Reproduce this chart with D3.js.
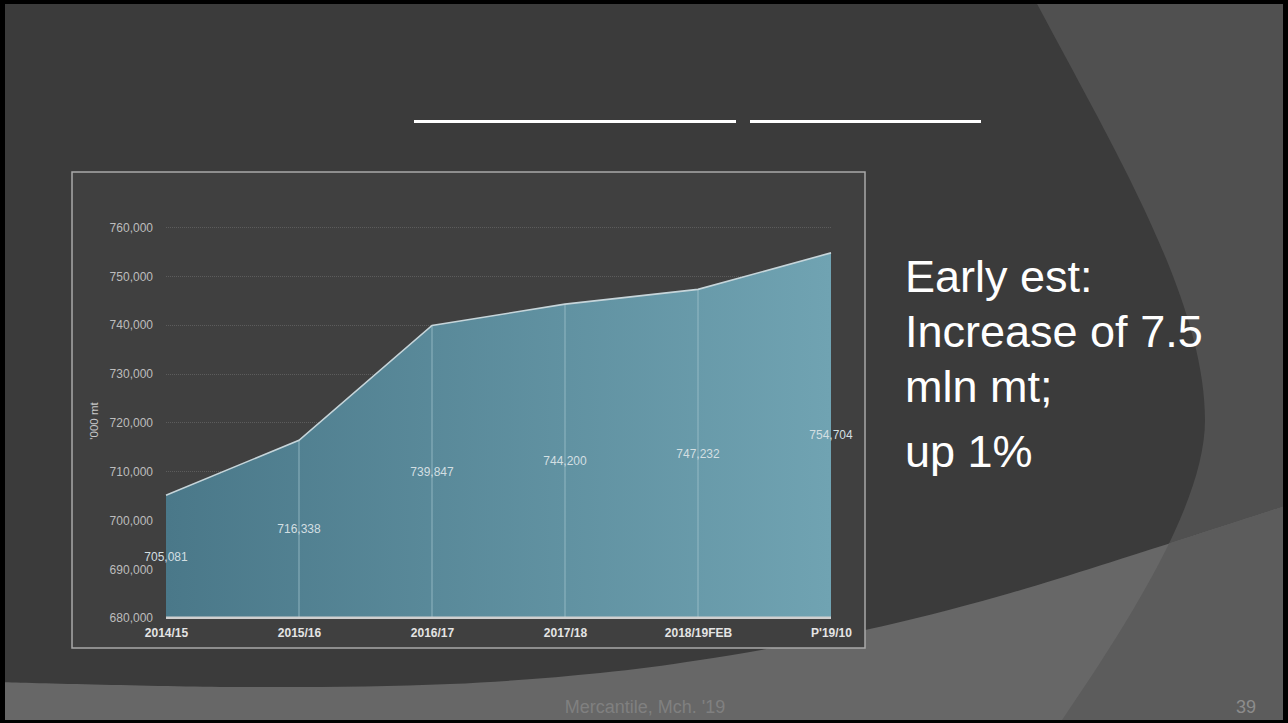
<!DOCTYPE html>
<html>
<head>
<meta charset="utf-8">
<script src="https://cdn.jsdelivr.net/npm/d3@7"></script>
<style>
  html, body { margin: 0; padding: 0; background: #000; }
  svg { display: block; font-family: "Liberation Sans", Arial, sans-serif; }
</style>
</head>
<body>
<svg id="chart" width="1288" height="723"></svg>
<script>
// ---- data ----
const categories = ["2014/15", "2015/16", "2016/17", "2017/18", "2018/19FEB", "P'19/10"];
const production = [705081, 716338, 739847, 744200, 747232, 754704];
const yTicks = [680000, 690000, 700000, 710000, 720000, 730000, 740000, 750000, 760000];
const yTitle = "'000 mt";
const noteLines = ["Early est:", "Increase of 7.5", "mln mt;", "up 1%"];
const footerText = "Mercantile, Mch. '19";
const pageNumber = "39";

const svg = d3.select("#chart");
const W = 1288, H = 723;

// ---- slide background ----
const defs = svg.append("defs");
defs.append("clipPath").attr("id", "slideClip")
  .append("rect").attr("x", 5).attr("y", 4).attr("width", 1278).attr("height", 716);

const bg = svg.append("g").attr("clip-path", "url(#slideClip)");
bg.append("rect").attr("x", 0).attr("y", 0).attr("width", W).attr("height", H).attr("fill", "#3b3b3b");

const wedgeD = "M1035,0 C1114.5,150 1205,300 1205,420 C1205,500 1135,613 1060,723 L1288,723 L1288,0 Z";
const bandPts = [[0,682],[250,687],[450,684],[600,673],[700,660],[865,630],[1000,596],[1180,540],[1288,505]];
const smooth = d3.line().curve(d3.curveCatmullRom);
const bandD = smooth(bandPts) + "L1288,723L0,723Z";

defs.append("clipPath").attr("id", "wedgeClip").append("path").attr("d", wedgeD);

bg.append("path").attr("d", wedgeD).attr("fill", "#505050");
bg.append("path").attr("d", bandD).attr("fill", "#676767");
bg.append("path").attr("d", bandD).attr("fill", "#5c5c5c").attr("clip-path", "url(#wedgeClip)");

// title bars
bg.append("rect").attr("x", 414).attr("y", 120).attr("width", 322).attr("height", 3).attr("fill", "#ffffff");
bg.append("rect").attr("x", 750).attr("y", 120).attr("width", 231).attr("height", 3).attr("fill", "#ffffff");

// ---- chart box ----
svg.append("rect").attr("x", 72).attr("y", 172).attr("width", 793).attr("height", 476)
  .attr("fill", "#404040").attr("stroke", "#a9a9a9").attr("stroke-width", 1.5);

const x = d3.scalePoint().domain(categories).range([166, 831]);
const y = d3.scaleLinear().domain([680000, 760000]).range([617.7, 227]);

// gridlines
svg.append("g").selectAll("line").data(yTicks.slice(1)).join("line")
  .attr("x1", 166).attr("x2", 831)
  .attr("y1", d => Math.round(y(d)) + 0.5).attr("y2", d => Math.round(y(d)) + 0.5)
  .attr("stroke", "#5c5c5c").attr("stroke-width", 1).attr("stroke-dasharray", "1,1");

// gradient
const grad = defs.append("linearGradient").attr("id", "areaGrad")
  .attr("gradientUnits", "userSpaceOnUse").attr("x1", 166).attr("x2", 831).attr("y1", 0).attr("y2", 0);
grad.append("stop").attr("offset", "0%").attr("stop-color", "#4a7889");
grad.append("stop").attr("offset", "100%").attr("stop-color", "#70a3b2");

const data = categories.map((c, i) => ({ c, v: production[i] }));

svg.append("path").datum(data)
  .attr("d", d3.area().x(d => x(d.c)).y0(y(680000)).y1(d => y(d.v)))
  .attr("fill", "url(#areaGrad)");

// internal vertical lines
svg.append("g").selectAll("line").data(data.slice(1, -1)).join("line")
  .attr("x1", d => x(d.c)).attr("x2", d => x(d.c))
  .attr("y1", y(680000)).attr("y2", d => y(d.v))
  .attr("stroke", "#a3c4ce").attr("stroke-opacity", 0.75).attr("stroke-width", 1);

// top line
svg.append("path").datum(data)
  .attr("d", d3.line().x(d => x(d.c)).y(d => y(d.v)))
  .attr("fill", "none").attr("stroke", "#c6d5da").attr("stroke-width", 1.6);

// baseline
svg.append("line").attr("x1", 166).attr("x2", 831).attr("y1", y(680000)).attr("y2", y(680000))
  .attr("stroke", "#cfcfcf").attr("stroke-width", 2.5);

// y axis labels
const yAxis = d3.axisLeft(y).tickValues(yTicks).tickFormat(d3.format(",")).tickSize(0).tickPadding(0);
const yg = svg.append("g").attr("transform", "translate(153,0)").call(yAxis);
yg.select(".domain").remove();
yg.selectAll("text").attr("fill", "#bdbdbd").attr("font-size", 12)
  .attr("font-family", "Liberation Sans, Arial, sans-serif").attr("dy", "0.35em");

// x axis labels
const xAxis = d3.axisBottom(x).tickSize(0).tickPadding(0);
const xg = svg.append("g").attr("transform", "translate(0,626)").call(xAxis);
xg.select(".domain").remove();
xg.selectAll("text").attr("fill", "#e4e4e4").attr("font-size", 12).attr("font-weight", "bold")
  .attr("font-family", "Liberation Sans, Arial, sans-serif").attr("dy", "0.9em");

// y title
svg.append("text").attr("transform", "translate(98,421) rotate(-90)")
  .attr("text-anchor", "middle").attr("fill", "#c8c8c8").attr("font-size", 11.5).text(yTitle);

// data labels (middle of column)
svg.append("g").selectAll("text").data(data).join("text")
  .attr("x", d => x(d.c))
  .attr("y", d => (y(d.v) + y(680000)) / 2)
  .attr("dy", "0.35em")
  .attr("text-anchor", "middle").attr("fill", "#d3dfe2").attr("font-size", 12)
  .text(d => d3.format(",")(d.v));

// ---- side note ----
const noteY = [291.7, 347.3, 402.3, 467.3];
svg.append("g").selectAll("text").data(noteLines).join("text")
  .attr("x", 905).attr("y", (d, i) => noteY[i])
  .attr("fill", "#ffffff").attr("font-size", 45).text(d => d);

// ---- footer ----
svg.append("text").attr("x", 645).attr("y", 713).attr("text-anchor", "middle")
  .attr("fill", "#808080").attr("font-size", 18).text(footerText);
svg.append("text").attr("x", 1256).attr("y", 713).attr("text-anchor", "end")
  .attr("fill", "#8c8c8c").attr("font-size", 18).text(pageNumber);
</script>
</body>
</html>
